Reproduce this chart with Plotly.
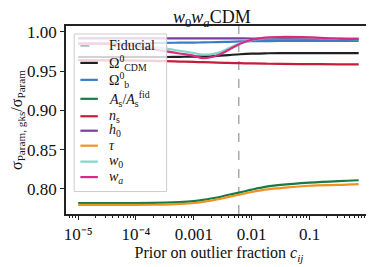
import numpy as np
import plotly.graph_objects as go

# x positions (log10 of prior on outlier fraction)
log_c = [-5.0, -4.5, -4.0, -3.7, -3.5, -3.25, -3.0, -2.84, -2.6, -2.4, -2.2, -2.0, -1.77, -1.5, -1.0, -0.5, -0.15]
fiducial_c = 0.006

omega_cdm = [0.968, 0.968, 0.968, 0.968, 0.968, 0.9682, 0.9685, 0.9687, 0.9695, 0.9705, 0.9715, 0.9722, 0.9727, 0.9729, 0.9730, 0.9730, 0.9730]
omega_b   = [0.9855, 0.9855, 0.9856, 0.9858, 0.9860, 0.9862, 0.9864, 0.9866, 0.9870, 0.9874, 0.9878, 0.9881, 0.9883, 0.9884, 0.9885, 0.9885, 0.9885]
A_s       = [0.782, 0.782, 0.782, 0.7822, 0.7825, 0.7832, 0.7845, 0.786, 0.789, 0.7925, 0.7955, 0.799, 0.8025, 0.805, 0.808, 0.810, 0.811]
n_s       = [0.9641, 0.9638, 0.9634, 0.9630, 0.9627, 0.9622, 0.9617, 0.9614, 0.9609, 0.9605, 0.9601, 0.9598, 0.9595, 0.9592, 0.9589, 0.9587, 0.9585]
h_0       = [0.9918, 0.9918, 0.9918, 0.9918, 0.9918, 0.9918, 0.9918, 0.9918, 0.9918, 0.9917, 0.9917, 0.9916, 0.9915, 0.9914, 0.9913, 0.9912, 0.9911]
tau       = [0.7795, 0.7795, 0.7796, 0.7798, 0.780, 0.7808, 0.782, 0.7835, 0.7865, 0.7898, 0.7928, 0.796, 0.799, 0.801, 0.804, 0.805, 0.806]
w_0       = [0.985, 0.985, 0.984, 0.981, 0.979, 0.976, 0.973, 0.971, 0.973, 0.979, 0.9855, 0.9895, 0.9922, 0.9932, 0.9928, 0.9913, 0.9908]
w_a       = [0.985, 0.9848, 0.982, 0.978, 0.9755, 0.9725, 0.9695, 0.9666, 0.970, 0.977, 0.985, 0.990, 0.9928, 0.9935, 0.9930, 0.9915, 0.9910]

x_tick_vals = [1e-5, 1e-4, 1e-3, 1e-2, 1e-1]
x_tick_text = ["10⁻⁵", "10⁻⁴", "0.001", "0.01", "0.1"]
y_tick_vals = [0.80, 0.85, 0.90, 0.95, 1.00]
y_tick_text = ["0.80", "0.85", "0.90", "0.95", "1.00"]

legend_names = ["Fiducial", "Ω<sup>0</sup><sub>CDM</sub>", "Ω<sup>0</sup><sub>b</sub>",
                "<i>A</i><sub>s</sub>/<i>A</i><sub>s</sub><sup>fid</sup>", "<i>n</i><sub>s</sub>",
                "<i>h</i><sub>0</sub>", "<i>τ</i>", "<i>w</i><sub>0</sub>", "<i>w<sub>a</sub></i>"]

x = [10 ** v for v in log_c]
y_lo, y_hi = 0.768, 1.0075

series = [
    (omega_cdm, "#1f1f1f"),
    (omega_b, "#3a7cc6"),
    (A_s, "#187a45"),
    (n_s, "#c41e3a"),
    (h_0, "#7b3f9e"),
    (tau, "#f0921f"),
    (w_0, "#7fd8c6"),
    (w_a, "#d62a83"),
]

FONT = "Liberation Serif"
fig = go.Figure()
fig.add_trace(go.Scatter(x=[fiducial_c, fiducial_c], y=[y_lo, y_hi], mode="lines",
                         line=dict(color="#808080", width=1, dash="dash"), name=legend_names[0],
                         showlegend=False))
for (vals, col), name in zip(series, legend_names[1:]):
    fig.add_trace(go.Scatter(x=x, y=vals, mode="lines", line=dict(color=col, width=2.2, shape="spline"),
                             name=name, showlegend=False))

# ---- hand-built legend box (matplotlib style), in plot-area fractions ----
# page has an 8px body margin, so the figure is 8px smaller and margins shifted
L, PW, PH, B = 66, 298, 188.5, 214.5
def fx(px): return (px - L) / PW
def fy(py): return (B - py) / PH

row_px = [46, 63, 80, 99, 116.5, 131, 146, 162, 177.5]
styles = [dict(color="#808080", width=1, dash="dash")] + [dict(color=c, width=2.2) for _, c in series]

shapes = [dict(type="rect", xref="paper", yref="paper", x0=fx(74), x1=fx(164), y0=fy(192), y1=fy(34),
               fillcolor="rgba(255,255,255,0.8)", line=dict(color="#cccccc", width=1), layer="above")]
annotations = []
for name, st, py in zip(legend_names, styles, row_px):
    shapes.append(dict(type="line", xref="paper", yref="paper", x0=fx(80), x1=fx(97), y0=fy(py), y1=fy(py),
                       line=st, layer="above"))
    annotations.append(dict(text=name, xref="paper", yref="paper", x=fx(106), y=fy(py),
                            xanchor="left", yanchor="middle", showarrow=False,
                            font=dict(size=14, family=FONT, color="#111")))

minor_vals = [m * 10 ** d for d in range(-6, 1) for m in range(2, 10)]

fig.update_layout(
    template="none",
    width=366, height=259,
    margin=dict(l=58, r=2, t=18, b=52.5, autoexpand=False),
    paper_bgcolor="white", plot_bgcolor="white",
    font=dict(family=FONT, size=16, color="#111"),
    title=dict(text="<i>w</i><sub>0</sub><i>w<sub>a</sub></i>CDM", x=0.557, xanchor="center",
               y=0.99, yanchor="top", pad=dict(t=0, b=0), font=dict(size=18), automargin=False),
    showlegend=False,
    shapes=shapes,
    annotations=annotations,
    xaxis=dict(type="log", range=[-5.21, 0.08], showgrid=False, zeroline=False, automargin=False,
               showline=True, linecolor="#222", linewidth=1.5, mirror=True,
               ticks="outside", ticklen=4, tickwidth=1.2, tickcolor="#222",
               tickvals=x_tick_vals, ticktext=x_tick_text, tickfont=dict(size=17),
               minor=dict(ticks="outside", ticklen=2.5, tickwidth=0.8, tickcolor="#222", tickvals=minor_vals, showgrid=False),
               title=dict(text="Prior on outlier fraction <i>c<sub>ij</sub></i>", font=dict(size=16), standoff=3)),
    yaxis=dict(range=[y_lo, y_hi], showgrid=False, zeroline=False, automargin=False,
               showline=True, linecolor="#222", linewidth=1.5, mirror=True,
               ticks="outside", ticklen=4, tickwidth=1.2, tickcolor="#222",
               tickvals=y_tick_vals, ticktext=y_tick_text, tickfont=dict(size=17),
               title=dict(text="σ<sub>Param, gks</sub>/σ<sub>Param</sub>", font=dict(size=16), standoff=5)),
)

fig.write_html("out.html")
